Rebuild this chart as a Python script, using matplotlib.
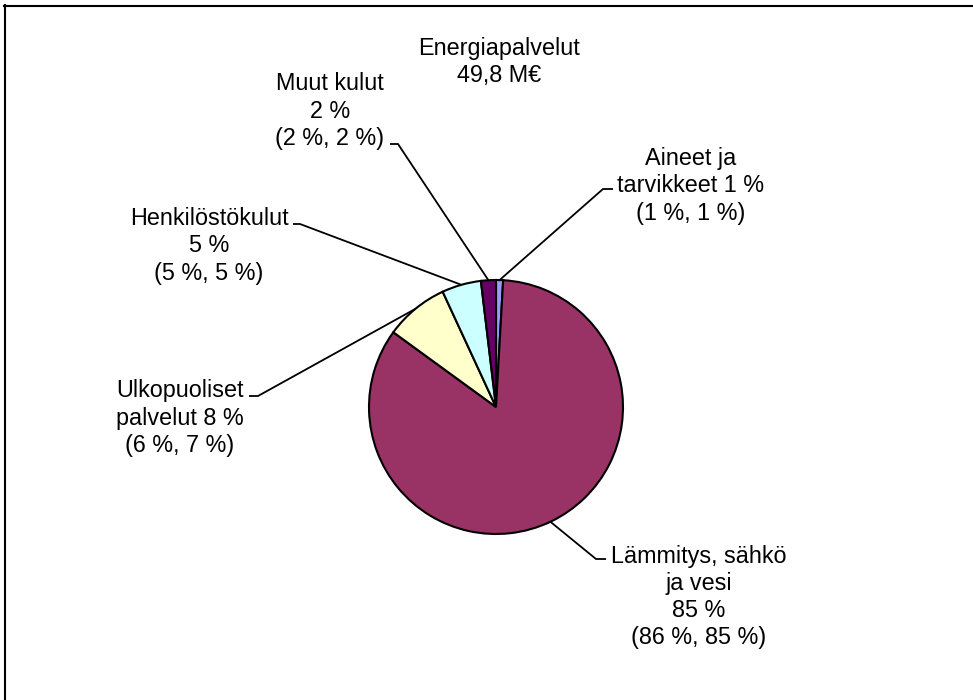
import matplotlib
matplotlib.use("Agg")
import matplotlib.pyplot as plt
import numpy as np

plt.rcParams['font.family'] = ['Liberation Sans', 'DejaVu Sans']

# ---- data ----
categories = ["Aineet ja tarvikkeet", "Lämmitys, sähkö ja vesi",
              "Ulkopuoliset palvelut", "Henkilöstökulut", "Muut kulut"]
shares = [0.9, 84.2, 8.1, 5.0, 1.9]
label_texts = ["Aineet ja\ntarvikkeet 1 %\n(1 %, 1 %)",
               "Lämmitys, sähkö\nja vesi\n85 %\n(86 %, 85 %)",
               "Ulkopuoliset\npalvelut 8 %\n(6 %, 7 %)",
               "Henkilöstökulut\n5 %\n(5 %, 5 %)",
               "Muut kulut\n2 %\n(2 %, 2 %)"]
colors = ["#9999FF", "#993366", "#FFFFCC", "#CCFFFF", "#660066"]
title_text = "Energiapalvelut\n49,8 M€"

# ---- layout (pixel coordinates, y measured from top) ----
W, H = 973, 700
cx, cy, R = 496, 407, 127
label_pos = [(691, 186), (699, 597), (180, 418), (209, 246), (330, 111)]
tick_pts = [((613, 189), (603, 189)),
            ((606, 559), (596, 559)),
            ((249, 396), (258, 396)),
            ((293, 224), (300, 224)),
            ((390, 144), (398, 144))]
FS = 16.8
LS = 1.24

fig = plt.figure(figsize=(W / 100, H / 100), dpi=100)
ax = fig.add_axes([0, 0, 1, 1])

def Y(y):
    return H - y

wedges, _ = ax.pie(shares, colors=colors, startangle=90, counterclock=False,
                   center=(cx, Y(cy)), radius=R, frame=True,
                   wedgeprops=dict(edgecolor='black', linewidth=1.5))
ax.set_xlim(0, W)
ax.set_ylim(0, H)
ax.set_aspect('equal')
ax.axis('off')

for w, txt, (lx, ly), (p0, p1) in zip(wedges, label_texts, label_pos, tick_pts):
    mid = np.deg2rad((w.theta1 + w.theta2) / 2)
    ex = cx + R * np.cos(mid)
    ey = Y(cy) + R * np.sin(mid)
    ax.plot([p0[0], p1[0], ex], [Y(p0[1]), Y(p1[1]), ey], color='black', lw=1.3,
            solid_capstyle='butt', solid_joinstyle='miter')
    ax.text(lx, Y(ly), txt, ha='center', va='center', fontsize=FS,
            linespacing=LS, multialignment='center')

ax.text(499, Y(62), title_text, ha='center', va='center', fontsize=FS,
        linespacing=LS)

# frame (left and top)
fig.add_artist(plt.Line2D([4.5 / W, 4.5 / W], [0, 1 - 5 / H], color='black', lw=1.5,
                          transform=fig.transFigure))
fig.add_artist(plt.Line2D([4 / W, 1], [1 - 5.5 / H, 1 - 5.5 / H], color='black', lw=1.5,
                          transform=fig.transFigure))

fig.savefig("out.png", dpi=100, facecolor='white')
